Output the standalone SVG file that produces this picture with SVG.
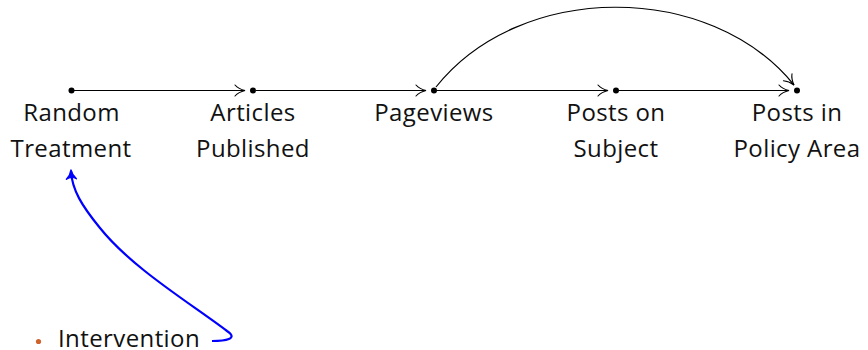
<svg xmlns="http://www.w3.org/2000/svg" width="868" height="350" viewBox="0 0 868 350">
<style>
.lbl{font-family:"Open Sans","Noto Sans","Liberation Sans",sans-serif;font-size:24px;letter-spacing:0.4px;fill:#111;text-anchor:middle}
.edge{fill:none;stroke:#000;stroke-width:1.2}
.dot{fill:#000}
</style>
<defs>
<marker id="to" markerUnits="userSpaceOnUse" markerWidth="14" markerHeight="14" viewBox="-12 -7 14 14" refX="0" refY="0" orient="auto">
<path d="M-10,-5.5 C-7,-2.2 -2.5,-0.6 0,0 C-2.5,0.6 -7,2.2 -10,5.5" fill="none" stroke="#000" stroke-width="1.1" stroke-linecap="round"/>
</marker>
<marker id="toBlue" markerUnits="userSpaceOnUse" markerWidth="14" markerHeight="14" viewBox="-12 -7 14 14" refX="0" refY="0" orient="auto">
<path d="M-8,-5 C-5,-2 -2,-0.5 1,0 C-2,0.5 -5,2 -8,5 C-6,2 -6,-2 -8,-5 Z" fill="#0000ff" stroke="#0000ff" stroke-width="1.4" stroke-linejoin="round"/>
</marker>
</defs>
<g id="connectors">
<path class="edge" d="M74,90.5 L245,90.5" marker-end="url(#to)"/>
<path class="edge" d="M256,90.5 L426,90.5" marker-end="url(#to)"/>
<path class="edge" d="M437,90.5 L608,90.5" marker-end="url(#to)"/>
<path class="edge" d="M619,90.5 L789,90.5" marker-end="url(#to)"/>
<path class="edge" d="M436,87 C520,-19 710,-19 794,85" marker-end="url(#to)"/>
<path d="M212,341 C225,341 239,339 227,331 C190,303 132,268 100,228 C82,206 72,190 71,171" fill="none" stroke="#0000ff" stroke-width="2.2" marker-end="url(#toBlue)"/>
</g>
<g id="random-treatment">
<circle class="dot" cx="71.5" cy="90.5" r="3"/>
<text class="lbl" x="71.5" y="121">Random</text>
<text class="lbl" x="71" y="157">Treatment</text>
</g>
<g id="articles-published">
<circle class="dot" cx="253" cy="90.5" r="3"/>
<text class="lbl" x="253" y="121">Articles</text>
<text class="lbl" x="253" y="157">Published</text>
</g>
<g id="pageviews">
<circle class="dot" cx="434" cy="90.5" r="3"/>
<text class="lbl" x="434" y="121">Pageviews</text>
</g>
<g id="posts-on-subject">
<circle class="dot" cx="616" cy="90.5" r="3"/>
<text class="lbl" x="616" y="121">Posts on</text>
<text class="lbl" x="616" y="157">Subject</text>
</g>
<g id="posts-in-policy-area">
<circle class="dot" cx="797" cy="90.5" r="3"/>
<text class="lbl" x="797" y="121">Posts in</text>
<text class="lbl" x="797" y="157">Policy Area</text>
</g>
<g id="intervention">
<circle cx="38.5" cy="341.5" r="2.6" fill="#d0622e"/>
<text class="lbl" x="58" y="347" style="text-anchor:start">Intervention</text>
</g>
</svg>
